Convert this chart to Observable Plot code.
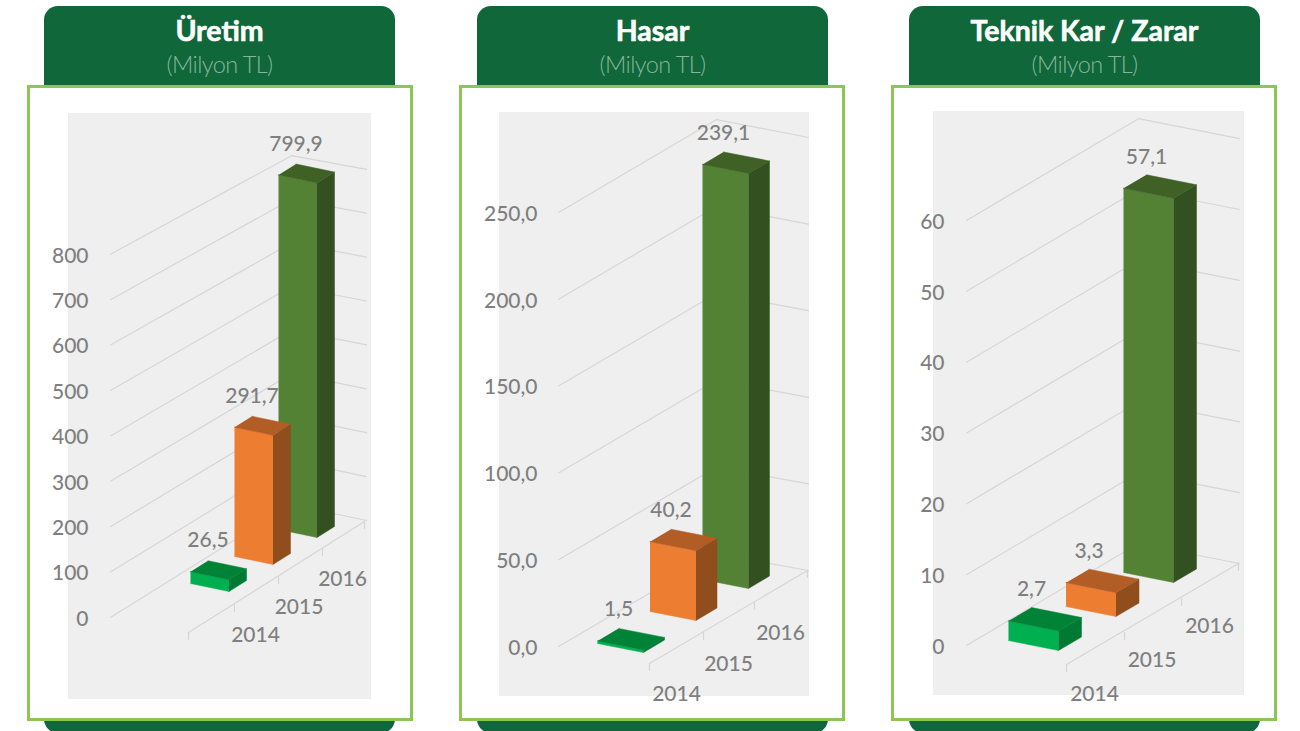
<!DOCTYPE html>
<html lang="tr">
<head>
<meta charset="utf-8">
<title>Üretim, Hasar, Teknik Kar / Zarar</title>
<script src="https://cdn.jsdelivr.net/npm/d3@7"></script>
<script src="https://cdn.jsdelivr.net/npm/@observablehq/plot@0.6"></script>
<style>
  html,body{margin:0;padding:0;background:#fff;width:1300px;height:731px;overflow:hidden;}
  .tab{position:absolute;top:6px;width:351px;height:727px;background:#0f673a;border-radius:14px;color:#fff;text-align:center;}
  .tab .t{font:700 28.5px/1 Lato,sans-serif;margin-top:10px;-webkit-text-stroke:.6px #fff;}
  .tab .s{font:300 23.5px/1 Lato,sans-serif;color:#86b59c;margin-top:8px;letter-spacing:-.6px;}
  .frame{position:absolute;top:85px;height:630px;width:380px;background:#fff;border:3px solid #8cc653;}
  .chart{position:absolute;top:85px;}
</style>
</head>
<body>
<div id="root"></div>
<script>
const years = ["2014", "2015", "2016"];

const uretimValues = [26.5, 291.7, 799.9];
const hasarValues = [1.5, 40.2, 239.1];
const teknikValues = [2.7, 3.3, 57.1];

const uretimTicks = [0, 100, 200, 300, 400, 500, 600, 700, 800];
const hasarTicks = [0, 50, 100, 150, 200, 250];
const teknikTicks = [0, 10, 20, 30, 40, 50, 60];

const frontColors = ["#00b050", "#ed7d31", "#548235"];
const topColors = ["#008237", "#b25d25", "#3f6126"];
const sideColors = ["#007a33", "#8f4e1b", "#335020"];

// Layout of each pseudo-3D panel: page-pixel anchors of the box and the bars' oblique axes.
const panels = [
  {title: "Üretim", values: uretimValues, ticks: uretimTicks, dec: 0, tabX: 44, frameX: 27,
   gray: [68, 371, 113, 699], k: 0.454, y0: 617, labelEnd: 88, leftX: 110,
   apexX: 291, apexY0: 504, apexK: 0.436, rightX: 366, rightY0: 520, rightK: 0.439,
   floorTicks: [[188, 632], [234, 604], [278, 576], [322, 548], [364, 521]], tickLen: 7,
   base: [190, 583], step: [44, -27], w: [38.5, 8], d: [17.5, -11], barF: [0.976, 0.976, 0.976],
   labelDy: -21, catOff: [65, 51], catStep: [43.5, -28]},
  {title: "Hasar", values: hasarValues, ticks: hasarTicks, dec: 1, tabX: 477, frameX: 459,
   gray: [499, 809, 112, 696], k: 1.736, y0: 646, labelEnd: 537, leftX: 558,
   apexX: 716, apexY0: 553.6, apexK: 1.738, rightX: 808, rightY0: 570, rightK: 1.732,
   floorTicks: [[649, 663], [703, 632], [754, 602], [807, 570]], tickLen: 7,
   base: [597, 643], step: [52.5, -32], w: [46, 9], d: [21, -12.5], barF: [1, 1, 1],
   labelDy: -20, catOff: [79, 50], catStep: [52, -30.5]},
  {title: "Teknik Kar / Zarar", values: teknikValues, ticks: teknikTicks, dec: 0, tabX: 909, frameX: 891,
   gray: [933, 1244, 111, 695], k: 7.083, y0: 645, labelEnd: 944, leftX: 966,
   apexX: 1138, apexY0: 543, apexK: 7.08, rightX: 1239, rightY0: 563, rightK: 7.08,
   floorTicks: [[1066, 664], [1124, 632], [1181, 598], [1238, 563]], tickLen: 7,
   base: [1008, 640], step: [57.5, -34], w: [50, 10], d: [23, -13.5], barF: [1.02, 1.02, 0.95],
   labelDy: -19, catOff: [86, 53], catStep: [57.5, -34]}
];

const comma = (v, dec) => v.toFixed(dec).replace(".", ",");
const root = document.getElementById("root");
const top0 = 85, chartW = 388, chartH = 640;

panels.forEach(p => {
  const tab = document.createElement("div");
  tab.className = "tab";
  tab.style.left = p.tabX + "px";
  tab.innerHTML = `<div class="t">${p.title}</div><div class="s">(Milyon TL)</div>`;
  root.appendChild(tab);
  const frame = document.createElement("div");
  frame.className = "frame";
  frame.style.left = p.frameX + "px";
  root.appendChild(frame);

  // page y pixel -> value units on this panel's y scale
  const vy = py => (p.y0 - py) / p.k;

  const lines = [];
  p.ticks.forEach(t => {
    const id = "g" + t;
    lines.push({id, x: p.leftX, y: t});
    lines.push({id, x: p.apexX, y: vy(p.apexY0 - p.apexK * t)});
    lines.push({id, x: p.rightX, y: vy(p.rightY0 - p.rightK * t)});
  });
  const first = p.floorTicks[0], last = p.floorTicks[p.floorTicks.length - 1];
  lines.push({id: "floor", x: first[0], y: vy(first[1])}, {id: "floor", x: last[0], y: vy(last[1])});
  p.floorTicks.forEach((f, i) => {
    lines.push({id: "t" + i, x: f[0], y: vy(f[1])}, {id: "t" + i, x: f[0], y: vy(f[1] + p.tickLen)});
  });

  // bar faces: corner(w,d,v) offsets from the bar's front-bottom-left point
  const faces = [], labels = [], cats = [];
  const order = p.values.map((v, i) => i).reverse(); // back bars first, front bars on top
  order.forEach(i => {
    const v = p.values[i];
    const bx = p.base[0] + i * p.step[0], by = p.base[1] + i * p.step[1];
    const h = v * p.barF[i];
    const corner = (a, b, val) => ({
      x: bx + a * p.w[0] + b * p.d[0],
      y: vy(by + a * p.w[1] + b * p.d[1]) + val
    });
    const face = (name, color, pts) => pts.forEach(c => faces.push({...corner(...c), id: i + name, color}));
    face("f", frontColors[i], [[0, 0, 0], [1, 0, 0], [1, 0, h], [0, 0, h]]);
    face("s", sideColors[i], [[1, 0, 0], [1, 1, 0], [1, 1, h], [1, 0, h]]);
    face("t", topColors[i], [[0, 0, h], [1, 0, h], [1, 1, h], [0, 1, h]]);
    const bl = corner(0, 1, h);
    labels.push({x: bl.x, y: bl.y - p.labelDy / p.k, text: comma(v, 1)});
    cats.push({
      x: bx + p.catOff[0] + (i * (p.catStep[0] - p.step[0])),
      y: vy(p.base[1] + p.catOff[1] + i * p.catStep[1]),
      text: years[i]
    });
  });

  const chart = Plot.plot({
    width: chartW, height: chartH,
    marginLeft: p.labelEnd - p.frameX, marginRight: 0, marginTop: 0, marginBottom: 0,
    x: {domain: [p.frameX, p.frameX + chartW], range: [0, chartW], axis: null},
    y: {domain: [vy(top0), vy(top0 + chartH)], range: [0, chartH], axis: null},
    color: {type: "identity"},
    style: {fontFamily: "Lato, sans-serif", fontSize: "21px", fontWeight: 500, color: "#7f7f7f", background: "transparent"},
    marks: [
      Plot.rect([p.gray], {x1: d => d[0], x2: d => d[1], y1: d => vy(d[2]), y2: d => vy(d[3]), fill: "#efefef"}),
      Plot.line(lines, {x: "x", y: "y", z: "id", stroke: "#d6d6d6", strokeWidth: 1.2}),
      Plot.axisY({ticks: p.ticks, tickSize: 0, tickPadding: 0, label: null, fontSize: 21, fontVariant: "normal", dy: 1.5,
        tickFormat: d => comma(d, p.dec)}),
      Plot.line(faces, {x: "x", y: "y", z: "id", fill: "color", stroke: "color", strokeWidth: 0.5}),
      Plot.text(labels, {x: "x", y: "y", text: "text", fontSize: 21, dy: 1, fill: "#7f7f7f"}),
      Plot.text(cats, {x: "x", y: "y", text: "text", fontSize: 21, dy: 1, fill: "#7f7f7f"})
    ]
  });
  chart.classList.add("chart");
  chart.style.left = p.frameX + "px";
  chart.style.position = "absolute";
  chart.style.top = top0 + "px";
  root.appendChild(chart);
});
</script>
</body>
</html>
